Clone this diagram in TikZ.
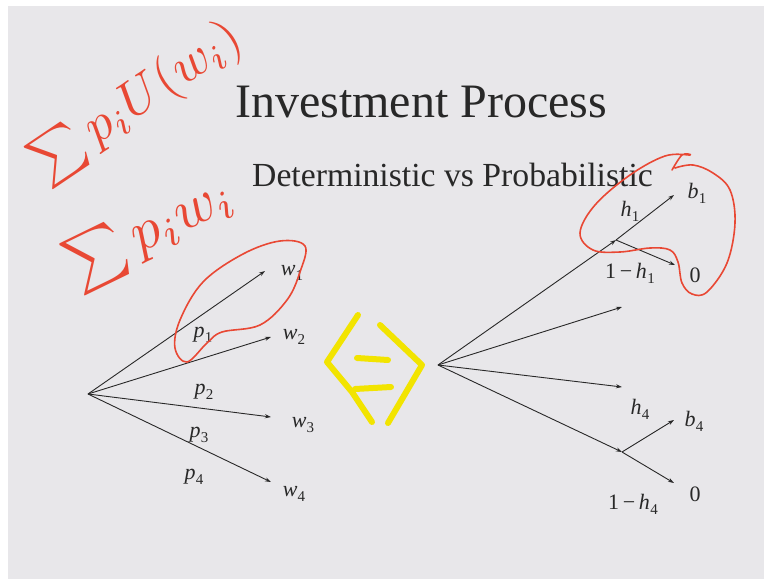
\documentclass[tikz,border=0pt]{standalone}
\usepackage{fontspec}
\setmainfont{Liberation Serif}
\usetikzlibrary{arrows.meta}
\definecolor{slidebg}{RGB}{232,231,234}
\definecolor{handred}{RGB}{232,72,52}
\definecolor{handyellow}{RGB}{242,228,0}
\definecolor{ink}{RGB}{40,40,40}
\newcommand\subl[2]{\textit{#1}\kern0.3pt\raisebox{-0.22em}{\fontsize{15}{15}\selectfont #2}}
\tikzset{
  branch/.style={draw=ink, line width=0.9pt, -{Stealth[length=6pt,width=4pt]}},
  lbl/.style={text=ink, font=\fontsize{22}{24}\selectfont, inner sep=0pt},
  hand/.style={draw=handred, line width=1.6pt, line cap=round, line join=round},
  hl/.style={draw=handyellow, line width=6pt, line cap=round, line join=round},
  handtext/.style={text=handred, inner sep=0pt}
}
\begin{document}
\begin{tikzpicture}[x=1pt,y=-1pt]
\useasboundingbox (0,0) rectangle (764,579);
\fill[white] (0,0) rectangle (764,579);
\fill[slidebg] (8,6) rectangle (764,579);

% title
\node[anchor=base west, inner sep=0pt, text=ink, font=\fontsize{48}{50}\selectfont] (title) at (235,117) {Investment Process};
\node[anchor=base west, inner sep=0pt, text=ink, font=\fontsize{33.7}{35}\selectfont] (subtitle) at (252,186) {Deterministic vs Probabilistic};

% left tree
\coordinate (L) at (88,394);
\coordinate (w1) at (265,271);
\coordinate (w2) at (271,337);
\coordinate (w3) at (271,417);
\coordinate (w4) at (271,482);
\foreach \t in {w1,w2,w3,w4} \draw[branch] (L) -- (\t);
\node[lbl] (lw1) at (292,273) {\subl{w}{1}};
\node[lbl] (lw2) at (294,337) {\subl{w}{2}};
\node[lbl] (lw3) at (303,425) {\subl{w}{3}};
\node[lbl] (lw4) at (294,494) {\subl{w}{4}};
\node[lbl] (lp1) at (203,335) {\subl{p}{1}};
\node[lbl] (lp2) at (204,392) {\subl{p}{2}};
\node[lbl] (lp3) at (199,435) {\subl{p}{3}};
\node[lbl] (lp4) at (194,477) {\subl{p}{4}};

% right tree
\coordinate (R) at (438,365);
\coordinate (A) at (616,240);
\coordinate (b1) at (674,195);
\coordinate (z1) at (675,265);
\coordinate (m2) at (622,307);
\coordinate (m3) at (622,387);
\coordinate (D) at (622,452);
\coordinate (b4) at (674,420);
\coordinate (z4) at (674,483);
\draw[branch] (R) -- (A);
\draw[branch] (R) -- (m2);
\draw[branch] (R) -- (m3);
\draw[branch] (R) -- (D);
\draw[branch] (A) -- (b1);
\draw[branch] (A) -- (z1);
\draw[branch] (D) -- (b4);
\draw[branch] (D) -- (z4);
\node[lbl] (lb1) at (697,193) {\subl{b}{1}};
\node[lbl] (lh1) at (630,211) {\subl{h}{1}};
\node[lbl] (lnh1) at (630,273) {1\,−\,\subl{h}{1}};
\node[lbl] (lz1) at (695,275) {0};
\node[lbl] (lh4) at (640,409) {\subl{h}{4}};
\node[lbl] (lb4) at (694,421) {\subl{b}{4}};
\node[lbl] (lnh4) at (633,504) {1\,−\,\subl{h}{4}};
\node[lbl] (lz4) at (695,494) {0};

% handwritten annotations
\node[handtext, rotate=34] (sumU) at (137,102) {\scalebox{5.2}{$\sum p_i U(w_i)$}};
\node[handtext, rotate=26] (sumW) at (150,232) {\scalebox{5.8}{$\sum p_i w_i$}};
\draw[hand] plot[smooth cycle, tension=0.6] coordinates {(305,246) (300,272) (287,300) (260,325) (222,332) (207,343) (187,362) (175,348) (180,320) (203,282) (243,254) (280,241)};
\draw[hand] plot[smooth, tension=0.6] coordinates {(672,170) (682,155) (690,155) (665,156) (630,175) (595,205) (580,233) (593,250) (620,252) (650,248) (670,250) (678,262) (682,283) (692,294) (707,292) (727,263) (735,223) (730,190) (713,173) (693,165) (675,168)};

% yellow equivalence mark
\draw[hl] (358,315) -- (327,362) -- (352,392) -- (372,422);
\draw[hl] (380,325) -- (422,365) -- (388,423);
\draw[hl] (357,358) -- (388,360);
\draw[hl] (355,389) -- (391,387);
\end{tikzpicture}
\end{document}
